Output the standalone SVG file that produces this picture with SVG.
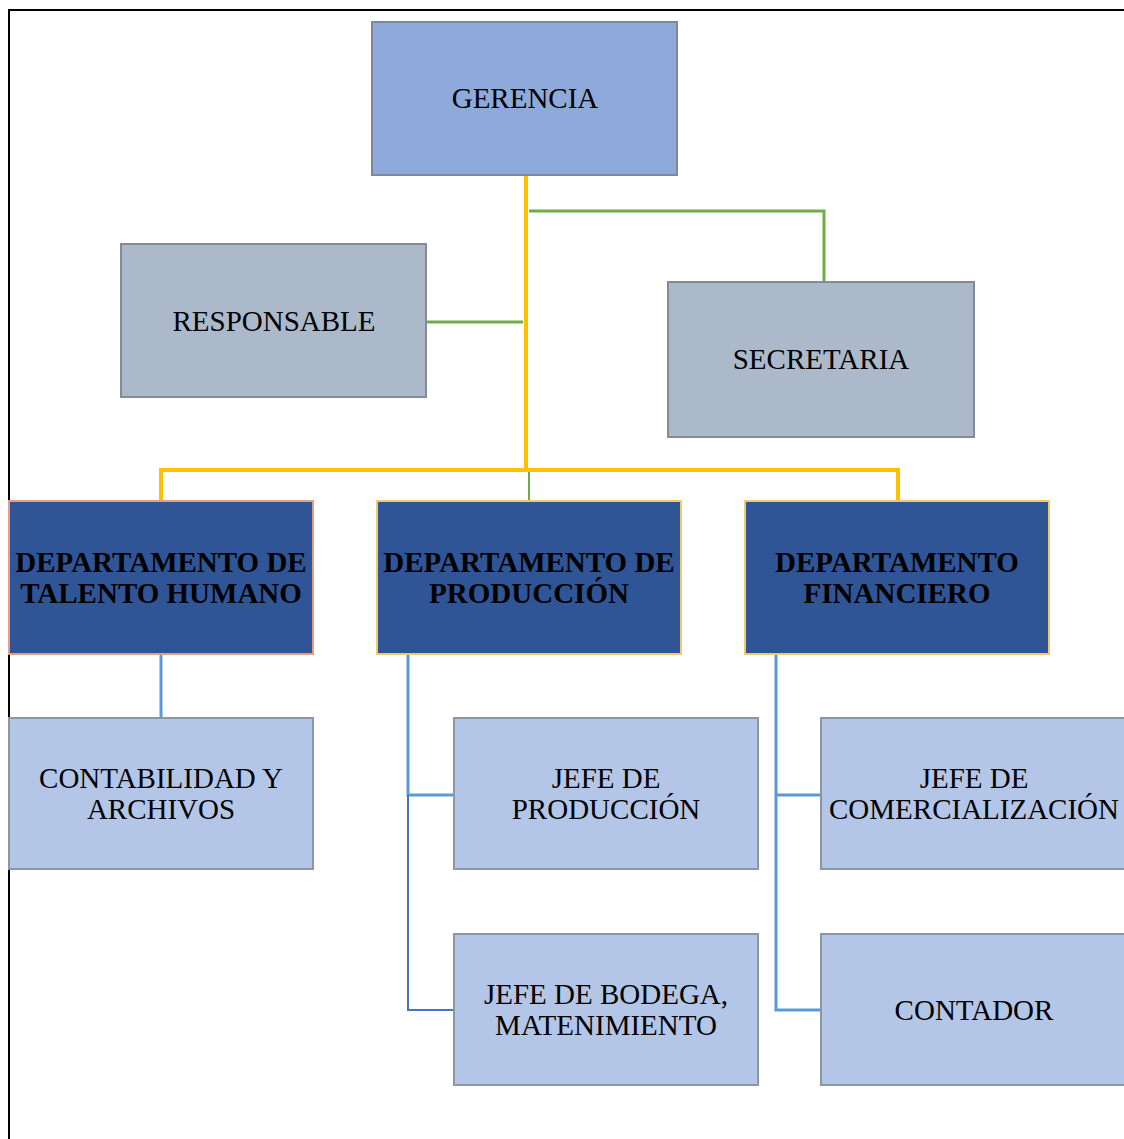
<svg xmlns="http://www.w3.org/2000/svg" width="1124" height="1139" viewBox="0 0 1124 1139">
<style>
text{font-family:"Liberation Serif","Times New Roman",serif;font-size:29px;fill:#000;text-anchor:middle}
.b{font-weight:bold;font-size:29px}
.top{fill:#8EAADB;stroke:#7F8799;stroke-width:2}
.gray{fill:#ACB9CA;stroke:#858A96;stroke-width:2}
.dept{fill:#2F5597;stroke-width:2}
.sub{fill:#B4C6E7;stroke:#8E95A3;stroke-width:2}
.y{stroke:#FFC000;stroke-width:4;fill:none}
.g{stroke:#70AD47;stroke-width:3;fill:none}
.lb{stroke:#5B9BD5;stroke-width:3;fill:none}
.db{stroke:#4472C4;stroke-width:2;fill:none}
</style>
<rect width="1124" height="1139" fill="#fff"/>
<path d="M9 1139 V10 H1124" stroke="#000" stroke-width="2" fill="none"/>
<g id="connectors">
<path class="y" d="M526 175 V470 M161 501 V470 H898 V501"/>
<path class="g" d="M529 211 H824 V292 M426 322 H523"/>
<path d="M529 472 V501" stroke="#70AD47" stroke-width="2" fill="none"/>
<path class="lb" d="M161 654 V718"/>
<path class="lb" d="M408 654 V795 H454"/>
<path class="db" d="M408 795 V1010 H454"/>
<path class="lb" d="M776 654 V1010 H821 M776 795 H821"/>
</g>
<g id="gerencia"><rect class="top" x="372" y="22" width="305" height="153"/><text x="525" y="108">GERENCIA</text></g>
<g id="responsable"><rect class="gray" x="121" y="244" width="305" height="153"/><text x="274" y="331">RESPONSABLE</text></g>
<g id="secretaria"><rect class="gray" x="668" y="282" width="306" height="155" stroke="#6F8DBF"/><text x="821" y="369">SECRETARIA</text></g>
<g id="dep-talento"><rect class="dept" x="9" y="501" width="304" height="153" stroke="#E0A183"/><text class="b" x="161" y="572">DEPARTAMENTO DE</text><text class="b" x="161" y="603">TALENTO HUMANO</text></g>
<g id="dep-produccion"><rect class="dept" x="377" y="501" width="304" height="153" stroke="#EBCB6A"/><text class="b" x="529" y="572">DEPARTAMENTO DE</text><text class="b" x="529" y="603">PRODUCCIÓN</text></g>
<g id="dep-financiero"><rect class="dept" x="745" y="501" width="304" height="153" stroke="#EBCB6A"/><text class="b" x="897" y="572">DEPARTAMENTO</text><text class="b" x="897" y="603">FINANCIERO</text></g>
<g id="contabilidad"><rect class="sub" x="9" y="718" width="304" height="151"/><text x="161" y="788">CONTABILIDAD Y</text><text x="161" y="819">ARCHIVOS</text></g>
<g id="jefe-produccion"><rect class="sub" x="454" y="718" width="304" height="151"/><text x="606" y="788">JEFE DE</text><text x="606" y="819">PRODUCCIÓN</text></g>
<g id="jefe-bodega"><rect class="sub" x="454" y="934" width="304" height="151"/><text x="606" y="1004">JEFE DE BODEGA,</text><text x="606" y="1035">MATENIMIENTO</text></g>
<g id="jefe-comercializacion"><rect class="sub" x="821" y="718" width="310" height="151"/><text x="974" y="788">JEFE DE</text><text x="974" y="819">COMERCIALIZACIÓN</text></g>
<g id="contador"><rect class="sub" x="821" y="934" width="310" height="151"/><text x="974" y="1020">CONTADOR</text></g>
</svg>
